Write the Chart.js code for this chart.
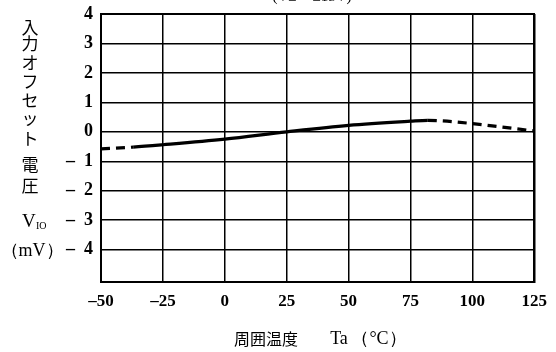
<!DOCTYPE html>
<html><head><meta charset="utf-8">
<script src="https://cdn.jsdelivr.net/npm/chart.js@4/dist/chart.umd.min.js"></script>
<style>html,body{margin:0;padding:0;background:#fff}#w{width:556px;height:352px}</style>
</head><body><div id="w"><canvas id="c"></canvas></div>
<script>
const temps = [-50, -37, -25, 0, 25, 50, 75, 82, 88, 100, 112, 125];
const vio = [-0.58, -0.52, -0.44, -0.25, 0.0, 0.22, 0.36, 0.39, 0.37, 0.28, 0.16, 0.03];
const xTicks = [-50, -25, 0, 25, 50, 75, 100, 125];
const yTicks = [-4, -3, -2, -1, 0, 1, 2, 3, 4];
const yTitleChars = ['入','力','オ','フ','セ','ッ','ト','電','圧'];
const xTitleParts = ['周囲温度', 'Ta', '（°C）'];
const topNote = '(V± = ±15V)';

const fmt = v => v < 0 ? '–  ' + Math.abs(v) : String(v);
const fmtX = v => v < 0 ? '–' + Math.abs(v) : String(v);

const textPlugin = {
  id: 'texts',
  afterDraw(chart) {
    const ctx = chart.ctx;
    ctx.save();
    ctx.fillStyle = '#000';
    ctx.textAlign = 'center';
    ctx.textBaseline = 'middle';
    ctx.font = '17px "Noto Sans CJK JP"';
    const ys = [28, 44, 63, 82, 101, 119, 139, 165, 186];
    yTitleChars.forEach((ch, i) => ctx.fillText(ch, 30, ys[i]));
    ctx.font = '19px "Liberation Serif"';
    ctx.textAlign = 'left';
    ctx.fillText('V', 22, 222);
    ctx.font = '10px "Liberation Serif"';
    ctx.fillText('IO', 36, 226);
    ctx.font = '18px "Liberation Serif"';
    ctx.textAlign = 'center';
    ctx.fillText('（mV）', 32, 251);
    ctx.font = '16px "Noto Sans CJK JP"';
    ctx.fillText(xTitleParts[0], 266, 339);
    ctx.font = '18px "Liberation Serif"';
    ctx.fillText(xTitleParts[1], 339, 339);
    ctx.fillText(xTitleParts[2], 379, 339);
    ctx.font = '15px "Liberation Serif"';
    ctx.textBaseline = 'alphabetic';
    ctx.fillText(topNote, 312, 1);
    ctx.restore();
  }
};

new Chart(document.getElementById('c'), {
  type: 'line',
  data: {
    datasets: [{
      data: temps.map((t, i) => ({x: t, y: vio[i]})),
      borderColor: '#000',
      borderWidth: 3.2,
      pointRadius: 0,
      cubicInterpolationMode: 'monotone',
      segment: {
        borderDash: c => (c.p0.parsed.x < -37 || c.p0.parsed.x >= 82) ? [9, 6] : undefined
      }
    }]
  },
  options: {
    responsive: true,
    maintainAspectRatio: false,
    animation: false,
    layout: {padding: {top: 14, right: 19, left: 0, bottom: 0}},
    plugins: {legend: {display: false}, tooltip: {enabled: false}},
    scales: {
      x: {
        type: 'linear', min: -50, max: 125,
        afterBuildTicks: a => { a.ticks = xTicks.map(v => ({value: v})); },
        afterFit: s => { s.height = 70; },
        grid: {color: '#000', lineWidth: 1.5, drawTicks: false},
        border: {color: '#000', width: 2},
        ticks: {color: '#000', padding: 9, maxRotation: 0, font: {family: 'Liberation Serif', size: 17, weight: 'bold'}, callback: fmtX}
      },
      y: {
        min: -5.1, max: 4,
        afterBuildTicks: a => { a.ticks = yTicks.map(v => ({value: v})); },
        afterFit: s => { s.width = 101; s.paddingTop = 0; s.paddingBottom = 0; },
        grid: {color: '#000', lineWidth: 1.5, drawTicks: false},
        border: {color: '#000', width: 2},
        ticks: {color: '#000', padding: 8, font: {family: 'Liberation Serif', size: 18, weight: 'bold'}, callback: fmt}
      },
      x2: {position: 'top', type: 'linear', min: -50, max: 125, display: true,
        grid: {display: false, drawTicks: false}, border: {color: '#000', width: 2}, ticks: {display: false},
        afterFit: s => { s.height = 0; }},
      y2: {position: 'right', min: -5.1, max: 4, display: true,
        grid: {display: false, drawTicks: false}, border: {color: '#000', width: 2}, ticks: {display: false},
        afterFit: s => { s.width = 0; }}
    }
  },
  plugins: [textPlugin]
});
</script>
</body></html>
